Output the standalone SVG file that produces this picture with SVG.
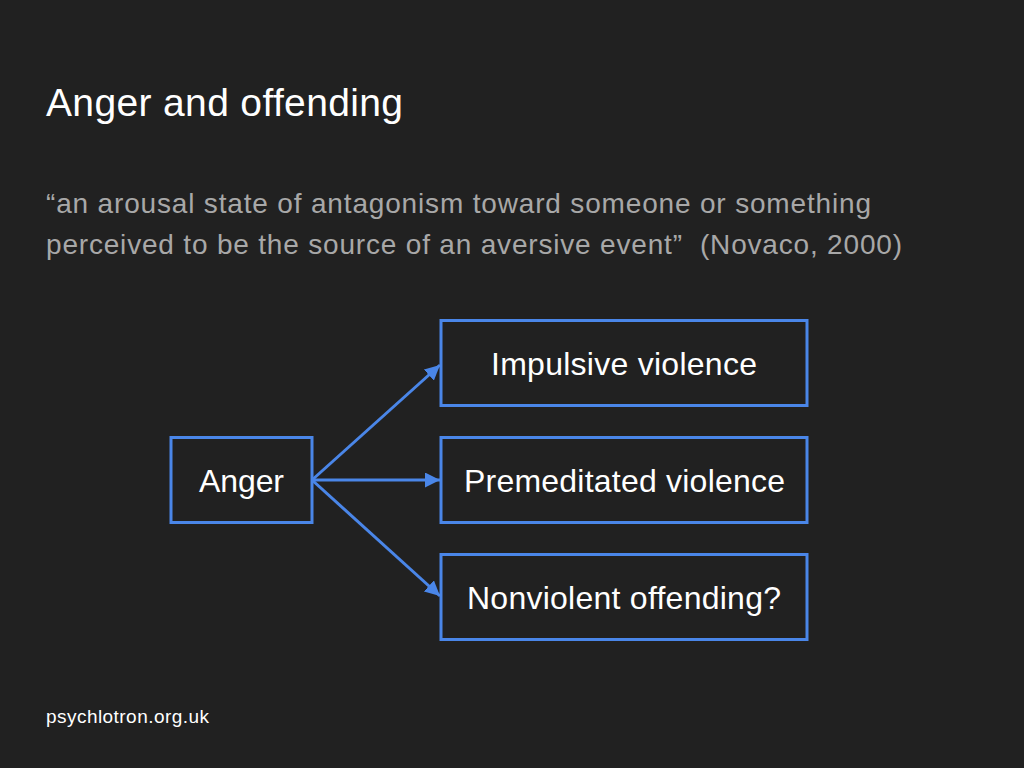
<svg xmlns="http://www.w3.org/2000/svg" width="1024" height="768" viewBox="0 0 1024 768">
<defs>
<style>
.box{fill:none;stroke:#4a86e8;stroke-width:3}
.lbl{font-family:"Liberation Sans",Arial,sans-serif;font-size:32px;fill:#ffffff}
.edge{stroke:#4a86e8;stroke-width:3;fill:none;marker-end:url(#ah)}
</style>
<marker id="ah" viewBox="0 0 10 10" refX="10" refY="5" markerWidth="5" markerHeight="5" orient="auto" markerUnits="strokeWidth">
<path d="M0,0 L10,5 L0,10 z" fill="#4a86e8"/>
</marker>
</defs>
<rect width="1024" height="768" fill="#212121"/>
<text x="46" y="116" font-family="'Liberation Sans',Arial,sans-serif" font-size="39" fill="#ffffff" textLength="357" lengthAdjust="spacing">Anger and offending</text>
<text font-family="'Liberation Sans',Arial,sans-serif" font-size="28" fill="#a8a8a8" x="46" y="213" textLength="825" lengthAdjust="spacing">“an arousal state of antagonism toward someone or something</text>
<text font-family="'Liberation Sans',Arial,sans-serif" font-size="28" fill="#a8a8a8" xml:space="preserve" x="46" y="254" textLength="856" lengthAdjust="spacing">perceived to be the source of an aversive event”  (Novaco, 2000)</text>
<text x="46" y="723" font-family="'Liberation Sans',Arial,sans-serif" font-size="19" fill="#ffffff" textLength="163" lengthAdjust="spacing">psychlotron.org.uk</text>
<g id="connectors">
<line class="edge" x1="312" y1="480" x2="440" y2="365"/>
<line class="edge" x1="312" y1="480" x2="440" y2="480"/>
<line class="edge" x1="312" y1="480" x2="440" y2="596"/>
</g>
<g id="anger">
<rect class="box" x="171" y="437.5" width="141" height="85"/>
<text class="lbl" x="199" y="492" textLength="85" lengthAdjust="spacing">Anger</text>
</g>
<g id="impulsive">
<rect class="box" x="441" y="320.5" width="366" height="85"/>
<text class="lbl" x="491" y="375" textLength="266" lengthAdjust="spacing">Impulsive violence</text>
</g>
<g id="premeditated">
<rect class="box" x="441" y="437.5" width="366" height="85"/>
<text class="lbl" x="464" y="492" textLength="321" lengthAdjust="spacing">Premeditated violence</text>
</g>
<g id="nonviolent">
<rect class="box" x="441" y="554.5" width="366" height="85"/>
<text class="lbl" x="467" y="609" textLength="314" lengthAdjust="spacing">Nonviolent offending?</text>
</g>
</svg>
